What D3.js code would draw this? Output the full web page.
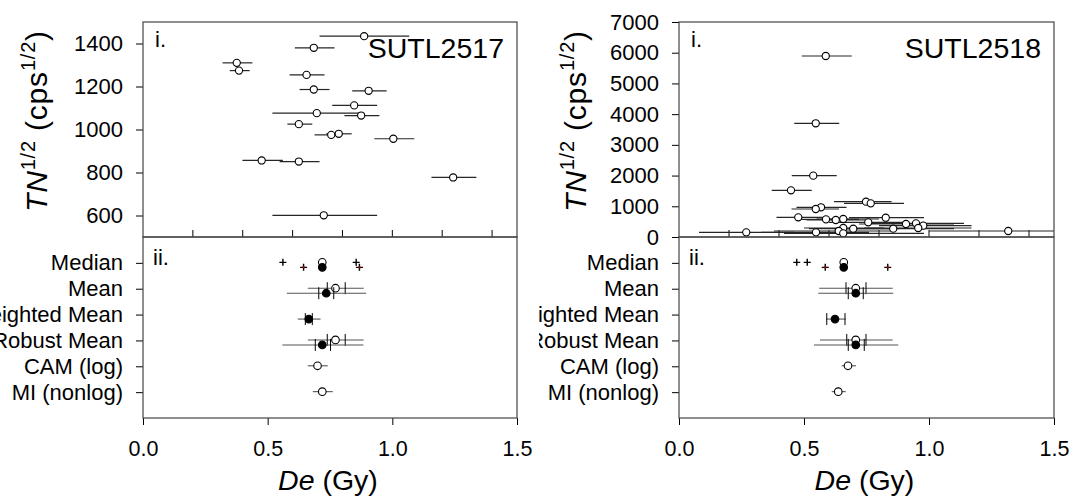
<!DOCTYPE html>
<html>
<head>
<meta charset="utf-8">
<script src="https://cdn.jsdelivr.net/npm/d3@7"></script>
<style>
  body { margin: 0; background: #ffffff; }
  svg  { display: block; font-family: 'Liberation Sans', Arial, sans-serif; }
</style>
</head>
<body>
<div id="graph"></div>
<script>
// ---- The data ----

// Sample names
var sampleNames = [ 'SUTL2517', 'SUTL2518' ];

// Summary rows of the lower panels
var rowNames = [ 'Median', 'Mean', 'Weighted Mean', 'Robust Mean', 'CAM (log)', 'MI (nonlog)' ];

// SUTL2517, upper panel: De (Gy), TN^1/2 and the error bar ends
var s17De = [ 0.887, 0.685, 0.376, 0.385, 0.656, 0.685, 0.905, 0.847, 0.697, 0.875, 0.625, 0.755, 0.785, 1.004, 0.476, 0.625, 1.244, 0.725 ];
var s17Tn = [ 1434,  1380,  1310,  1274,  1254,  1186,  1180,  1112,  1076,  1065,  1025,  975,   980,   957,   856,   851,   777,   601   ];
var s17Lo = [ 0.708, 0.609, 0.319, 0.348, 0.588, 0.628, 0.839, 0.759, 0.519, 0.808, 0.579, 0.688, 0.735, 0.928, 0.399, 0.548, 1.157, 0.519 ];
var s17Hi = [ 1.068, 0.768, 0.439, 0.428, 0.728, 0.748, 0.977, 0.939, 0.879, 0.948, 0.679, 0.800, 0.837, 1.088, 0.561, 0.708, 1.337, 0.939 ];

// SUTL2518, upper panel
var s18De = [ 0.587, 0.547, 0.537, 0.448, 0.748, 0.767, 0.568, 0.547, 0.477, 0.827, 0.588, 0.627, 0.657, 0.757, 0.908, 0.948, 0.977, 0.957, 0.857, 0.657, 0.697, 0.639, 0.657, 0.548, 0.269, 1.317 ];
var s18Tn = [ 5893,  3702,  1997,  1520,  1150,  1096,  967,   912,   641,   628,   575,   554,   586,   478,   423,   445,   369,   293,   271,   293,   271,   195,   119,   152,   152,   195   ];
var s18Lo = [ 0.491, 0.461, 0.451, 0.371, 0.620, 0.660, 0.470, 0.450, 0.390, 0.680, 0.470, 0.510, 0.550, 0.600, 0.720, 0.760, 0.800, 0.740, 0.620, 0.500, 0.520, 0.380, 0.420, 0.330, 0.080, 1.000 ];
var s18Hi = [ 0.691, 0.641, 0.631, 0.531, 0.850, 0.900, 0.670, 0.640, 0.580, 0.980, 0.720, 0.750, 0.800, 0.920, 1.100, 1.140, 1.170, 1.170, 1.100, 0.820, 0.880, 0.860, 0.980, 0.760, 0.460, 1.650 ];

// SUTL2517, lower panel (open = unweighted, filled = second estimate)
var s17Open     = [ 0.719, 0.772, null,  0.772, 0.700, 0.719 ];
var s17OpenLo   = [ null,  0.661, null,  0.661, 0.661, 0.681 ];
var s17OpenHi   = [ null,  0.885, null,  0.885, 0.741, 0.761 ];
var s17OpenSeLo = [ null,  0.739, null,  0.739, null,  null  ];
var s17OpenSeHi = [ null,  0.811, null,  0.811, null,  null  ];
var s17Fill     = [ 0.719, 0.735, 0.665, 0.719, null,  null  ];
var s17FillLo   = [ null,  0.577, 0.621, 0.559, null,  null  ];
var s17FillHi   = [ null,  0.895, 0.712, 0.884, null,  null  ];
var s17FillSeLo = [ null,  0.705, 0.651, 0.691, null,  null  ];
var s17FillSeHi = [ null,  0.765, 0.679, 0.752, null,  null  ];
var s17PlusOpen = [ 0.561, 0.855 ];
var s17PlusFill = [ 0.644, 0.868 ];

// SUTL2518, lower panel
var s18Open     = [ 0.659, 0.707, null,  0.707, 0.676, 0.637 ];
var s18OpenLo   = [ null,  0.561, null,  0.564, 0.651, 0.611 ];
var s18OpenHi   = [ null,  0.855, null,  0.855, 0.708, 0.667 ];
var s18OpenSeLo = [ null,  0.668, null,  0.671, null,  null  ];
var s18OpenSeHi = [ null,  0.748, null,  0.748, null,  null  ];
var s18Fill     = [ 0.659, 0.707, 0.624, 0.707, null,  null  ];
var s18FillLo   = [ null,  0.557, 0.588, 0.540, null,  null  ];
var s18FillHi   = [ null,  0.857, 0.667, 0.877, null,  null  ];
var s18FillSeLo = [ null,  0.677, 0.591, 0.677, null,  null  ];
var s18FillSeHi = [ null,  0.737, 0.664, 0.741, null,  null  ];
var s18PlusOpen = [ 0.471, 0.513 ];
var s18PlusFill = [ 0.585, 0.835 ];

// Axis ticks
var deTicks      = [ 0, 0.5, 1.0, 1.5 ];
var deInnerTicks = [ 0.2, 0.4, 0.6, 0.8, 1.0, 1.2, 1.4 ];
var tn17Ticks    = [ 600, 800, 1000, 1200, 1400 ];
var tn18Ticks    = [ 0, 1000, 2000, 3000, 4000, 5000, 6000, 7000 ];


// ---- Layout ----
var W = 1073, H = 496;
var TOP = 22, MID = 237, BOTTOM = 418;
var TICK_FONT = 22;
var frameColour = '#444444';

var svg = d3.select ('#graph').append ('svg')
            .attr ('width', W)
            .attr ('height', H);

// each sample is its own picture, cut at its left edge
var panels = [
    { name: sampleNames[0], edge: 0, left: 143, right: 517, titleX: 47, tnDomain: [ 500, 1500 ], tnTicks: tn17Ticks,
      de: s17De, tn: s17Tn, lo: s17Lo, hi: s17Hi,
      open: [ s17Open, s17OpenLo, s17OpenHi, s17OpenSeLo, s17OpenSeHi ],
      fill: [ s17Fill, s17FillLo, s17FillHi, s17FillSeLo, s17FillSeHi ],
      plusOpen: s17PlusOpen, plusFill: s17PlusFill },
    { name: sampleNames[1], edge: 539, left: 679, right: 1054, titleX: 586, tnDomain: [ 0, 7000 ], tnTicks: tn18Ticks,
      de: s18De, tn: s18Tn, lo: s18Lo, hi: s18Hi,
      open: [ s18Open, s18OpenLo, s18OpenHi, s18OpenSeLo, s18OpenSeHi ],
      fill: [ s18Fill, s18FillLo, s18FillHi, s18FillSeLo, s18FillSeHi ],
      plusOpen: s18PlusOpen, plusFill: s18PlusFill }
];

panels.forEach (drawPanel);


//
// One sample: upper TN vs De panel, lower summary panel
//
function drawPanel (p, k)
{
    var xScale = d3.scaleLinear ().domain ([ 0, 1.5 ]).range ([ p.left, p.right ]);
    var yTop   = d3.scaleLinear ().domain (p.tnDomain).range ([ MID, TOP ]);
    var yRow   = d3.scaleLinear ().domain ([ 0, 7 ]).range ([ MID, BOTTOM ]);

    var clipId = 'clip_' + k;
    svg.append ('clipPath')
       .attr ('id', clipId)
       .append ('rect')
       .attr ('x', p.left)
       .attr ('y', TOP)
       .attr ('width', p.right - p.left)
       .attr ('height', MID - TOP);

    var edgeId = 'edge_' + k;
    svg.append ('clipPath')
       .attr ('id', edgeId)
       .append ('rect')
       .attr ('x', p.edge)
       .attr ('y', 0)
       .attr ('width', W - p.edge)
       .attr ('height', H);

    var root = svg.append ('g').attr ('clip-path', 'url(#' + edgeId + ')');

    // upper panel y axis
    var yAxis = d3.axisLeft (yTop)
                  .tickValues (p.tnTicks)
                  .tickSize (7)
                  .tickPadding (13)
                  .tickFormat (d3.format ('d'));
    styleAxis (root.append ('g')
                   .attr ('transform', 'translate(' + p.left + ',0)')
                   .call (yAxis));

    // lower panel y axis
    var rowAxis = d3.axisLeft (yRow)
                    .tickValues ([ 1, 2, 3, 4, 5, 6 ])
                    .tickSize (7)
                    .tickPadding (13)
                    .tickFormat (function (d) { return rowNames[d - 1]; });
    styleAxis (root.append ('g')
                   .attr ('transform', 'translate(' + p.left + ',0)')
                   .call (rowAxis));

    // x axis
    var xAxis = d3.axisBottom (xScale)
                  .tickValues (deTicks)
                  .tickSize (7)
                  .tickFormat (d3.format ('.1f'));
    var xg = root.append ('g')
                 .attr ('transform', 'translate(0,' + BOTTOM + ')')
                 .call (xAxis);
    styleAxis (xg);
    xg.selectAll ('text').attr ('y', 38).attr ('dy', 0).attr ('font-size', 21.5);

    // small inner ticks on the bottom of the upper panel
    root.selectAll (null)
        .data (deInnerTicks)
        .enter ()
        .append ('line')
        .attr ('x1', function (d) { return xScale (d); })
        .attr ('x2', function (d) { return xScale (d); })
        .attr ('y1', MID)
        .attr ('y2', MID - 7)
        .attr ('stroke', '#000');

    // ---- upper panel points ----
    var top = root.append ('g').attr ('clip-path', 'url(#' + clipId + ')');

    top.selectAll ('line.err')
       .data (p.de)
       .enter ()
       .append ('line')
       .attr ('class', 'err')
       .attr ('x1', function (d, i) { return xScale (p.lo[i]); })
       .attr ('x2', function (d, i) { return xScale (p.hi[i]); })
       .attr ('y1', function (d, i) { return yTop (p.tn[i]); })
       .attr ('y2', function (d, i) { return yTop (p.tn[i]); })
       .attr ('stroke', '#262626')
       .attr ('stroke-width', 1.2);

    top.selectAll ('circle')
       .data (p.de)
       .enter ()
       .append ('circle')
       .attr ('cx', function (d) { return xScale (d); })
       .attr ('cy', function (d, i) { return yTop (p.tn[i]); })
       .attr ('r', 3.6)
       .attr ('fill', '#fff')
       .attr ('stroke', '#000')
       .attr ('stroke-width', 1.1);

    // ---- lower panel ----
    drawSummary (p.open, -0.5, '#fff');
    drawSummary (p.fill,  4.5, '#000');

    function drawSummary (s, offset, fill)
    {
        var vals = s[0], lo = s[1], hi = s[2], seLo = s[3], seHi = s[4];

        for (var i = 0; i < vals.length; i++)
        {
            if (vals[i] == null) continue;
            var y = yRow (i + 1) + offset;

            if (lo[i] != null)
                root.append ('line')
                    .attr ('x1', xScale (lo[i])).attr ('x2', xScale (hi[i]))
                    .attr ('y1', y).attr ('y2', y)
                    .attr ('stroke', '#555').attr ('stroke-width', 1.1);

            if (seLo[i] != null)
                [ seLo[i], seHi[i] ].forEach (function (v) {
                    root.append ('line')
                        .attr ('x1', xScale (v)).attr ('x2', xScale (v))
                        .attr ('y1', y - 6).attr ('y2', y + 6)
                        .attr ('stroke', '#000').attr ('stroke-width', 1);
                });

            root.append ('circle')
                .attr ('cx', xScale (vals[i]))
                .attr ('cy', y)
                .attr ('r', 3.8)
                .attr ('fill', fill)
                .attr ('stroke', '#000')
                .attr ('stroke-width', 1.1);
        }
    }

    // plus markers in the median row
    drawPlus (p.plusOpen, yRow (1) - 0.5, false);
    drawPlus (p.plusFill, yRow (1) + 4.5, true);

    function drawPlus (vals, y, red)
    {
        vals.forEach (function (v) {
            var x = xScale (v);
            root.append ('path')
                .attr ('d', 'M' + (x - 3.5) + ',' + y + 'H' + (x + 3.5) + 'M' + x + ',' + (y - 3.5) + 'V' + (y + 3.5))
                .attr ('stroke', '#000')
                .attr ('stroke-width', 1.4);
            if (red)
                root.append ('rect')
                    .attr ('x', x - 1).attr ('y', y - 1)
                    .attr ('width', 2).attr ('height', 2)
                    .attr ('fill', '#b00000');
        });
    }

    // frames
    root.append ('rect')
        .attr ('x', p.left).attr ('y', TOP)
        .attr ('width', p.right - p.left).attr ('height', MID - TOP)
        .attr ('fill', 'none').attr ('stroke', frameColour).attr ('stroke-width', 1.2);
    root.append ('rect')
        .attr ('x', p.left).attr ('y', MID)
        .attr ('width', p.right - p.left).attr ('height', BOTTOM - MID)
        .attr ('fill', 'none').attr ('stroke', frameColour).attr ('stroke-width', 1.2);

    // panel labels
    root.append ('text').attr ('x', p.left + 12).attr ('y', 47)
        .attr ('font-size', TICK_FONT).text ('i.');
    root.append ('text').attr ('x', p.left + 10).attr ('y', 265)
        .attr ('font-size', TICK_FONT).text ('ii.');

    root.append ('text')
        .attr ('x', p.right - 13).attr ('y', 58)
        .attr ('text-anchor', 'end')
        .attr ('font-size', 28.5)
        .text (p.name);

    // x title
    var xt = root.append ('text')
                 .attr ('x', (p.left + p.right) / 2 - 2)
                 .attr ('y', 490)
                 .attr ('text-anchor', 'middle')
                 .attr ('font-size', 28.5);
    xt.append ('tspan').attr ('font-style', 'italic').text ('De');
    xt.append ('tspan').text (' (Gy)');

    // y title
    var yt = root.append ('text')
                 .attr ('transform', 'translate(' + p.titleX + ',' + 121 + ') rotate(-90)')
                 .attr ('text-anchor', 'middle')
                 .attr ('letter-spacing', 0.8)
                 .attr ('font-size', 30);
    yt.append ('tspan').attr ('font-style', 'italic').text ('TN');
    yt.append ('tspan').attr ('font-size', 20).attr ('dy', -12).text ('1/2');
    yt.append ('tspan').attr ('dy', 12).text (' (cps');
    yt.append ('tspan').attr ('font-size', 20).attr ('dy', -12).text ('1/2');
    yt.append ('tspan').attr ('dy', 12).text (')');
}


function styleAxis (g)
{
    g.select ('.domain').remove ();
    g.attr ('font-family', null)
     .attr ('font-size', TICK_FONT);
    g.selectAll ('line').attr ('stroke', '#000');
    g.selectAll ('text').attr ('fill', '#000');
}
</script>
</body>
</html>
